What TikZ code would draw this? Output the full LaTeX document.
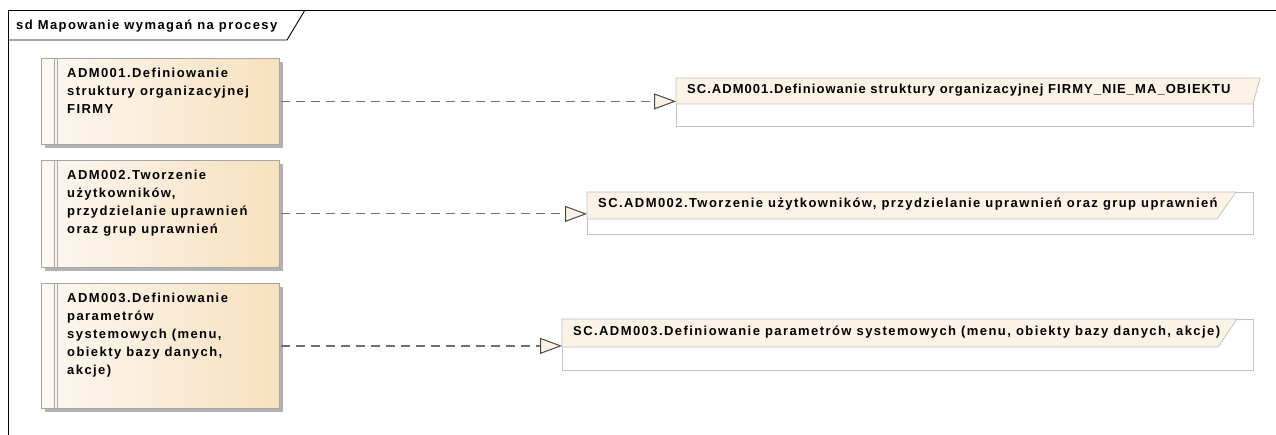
\documentclass[tikz,border=0pt]{standalone}
\usepackage{fontspec}
\newfontfamily\eafont{Liberation Sans}[LetterSpace=11]
\usetikzlibrary{arrows.meta,shadows}
\definecolor{hdr}{HTML}{FCF2E6}
\definecolor{gl}{HTML}{FDF8F2}
\definecolor{gr}{HTML}{F7E0BE}
\definecolor{bord}{HTML}{A6A6A6}
\definecolor{shad}{HTML}{B2B2B2}
\definecolor{sbord}{HTML}{C3C3C3}
\definecolor{dashc}{HTML}{707070}
\definecolor{tipc}{HTML}{4A4A4A}
\begin{document}
\begin{tikzpicture}[x=1pt,y=-1pt,
  lbl/.style={font=\eafont\bfseries\fontsize{13}{18}\selectfont, inner sep=0pt, align=left},
  reqbox/.style={draw=bord, line width=0.8pt, left color=gl, right color=gr,
     anchor=north west, inner sep=0pt, minimum width=238pt,
     general shadow={fill=shad, shadow xshift=4pt, shadow yshift=-4pt}},
  scbox/.style={draw=sbord, line width=0.8pt, fill=white, anchor=north west, inner sep=0pt},
  tab/.style={draw=sbord, line width=0.8pt, fill=hdr},
  strip/.style={draw=bord, line width=0.8pt},
  dep/.style={draw=dashc, line width=1.2pt, dash pattern=on 9pt off 6pt,
     -{Triangle[length=22pt, width=16pt, color=tipc, fill=hdr, line width=1pt]}},
  frame/.style={draw=black, line width=0.9pt}]
\useasboundingbox (0,0) rectangle (1276,435);
% frame
\draw[frame] (8,435) -- (8,10) -- (1276,10);
\draw[frame] (8,40) -- (287,40) -- (305,10);
\node[lbl, anchor=base west] (title) at (16,29.5) {sd Mapowanie wymagań na procesy};
% requirement boxes
\node[reqbox, minimum height=86pt] (r1) at (41,58) {};
\node[reqbox, minimum height=107pt] (r2) at (41,160) {};
\node[reqbox, minimum height=125pt] (r3) at (41,283) {};
\foreach \r in {r1,r2,r3}{
  \draw[strip] ([xshift=13.5pt]\r.north west) -- ([xshift=13.5pt]\r.south west);
  \draw[strip] ([xshift=16.5pt]\r.north west) -- ([xshift=16.5pt]\r.south west);
}
\node[lbl, anchor=north west] (t1) at (67,68) {ADM001.Definiowanie\\struktury organizacyjnej\\FIRMY};
\node[lbl, anchor=north west] (t2) at (67,170) {ADM002.Tworzenie\\użytkowników,\\przydzielanie uprawnień\\oraz grup uprawnień};
\node[lbl, anchor=north west] (t3) at (67,293) {ADM003.Definiowanie\\parametrów\\systemowych (menu,\\obiekty bazy danych,\\akcje)};
% scenario boxes
\node[scbox, minimum width=577pt, minimum height=48pt] (s1) at (676,78) {};
\filldraw[tab] (s1.north west) -- ++(584,0) -- ++(-7,26) -- ++(-577,0) -- cycle;
\node[lbl, anchor=base west] (h1) at ([shift={(11,16)}]s1.north west) {\addfontfeature{LetterSpace=8}SC.ADM001.Definiowanie struktury organizacyjnej FIRMY\_NIE\_MA\_OBIEKTU};
\node[scbox, minimum width=666pt, minimum height=42pt] (s2) at (587,192) {};
\filldraw[tab] (s2.north west) -- ++(649,0) -- ++(-19,27) -- ++(-630,0) -- cycle;
\node[lbl, anchor=base west] (h2) at ([shift={(11,16)}]s2.north west) {SC.ADM002.Tworzenie użytkowników, przydzielanie uprawnień oraz grup uprawnień};
\node[scbox, minimum width=691pt, minimum height=51pt] (s3) at (562,319) {};
\filldraw[tab] (s3.north west) -- ++(675,0) -- ++(-19,28) -- ++(-656,0) -- cycle;
\node[lbl, anchor=base west] (h3) at ([shift={(11,16)}]s3.north west) {SC.ADM003.Definiowanie parametrów systemowych (menu, obiekty bazy danych, akcje)};
% dependencies
\draw[dep] ([xshift=1pt]r1.east) -- (r1.east -| s1.west);
\draw[dep] ([xshift=1pt]r2.east) -- (r2.east -| s2.west);
\draw[dep] ([xshift=1pt]r3.east) -- (r3.east -| s3.west);
\end{tikzpicture}
\end{document}
